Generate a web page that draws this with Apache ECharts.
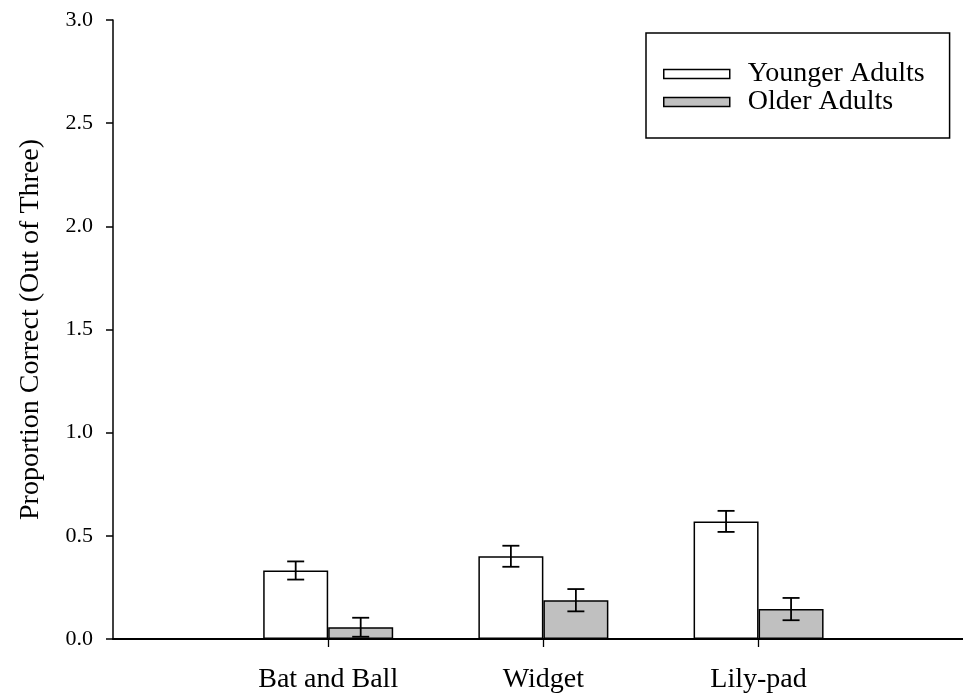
<!DOCTYPE html>
<html>
<head>
<meta charset="utf-8">
<script src="https://cdn.jsdelivr.net/npm/echarts@6/dist/echarts.min.js"></script>
<style>
  html, body { margin: 0; padding: 0; background: #fff; }
  #chart { width: 963px; height: 698px; }
</style>
</head>
<body>
<div id="chart"></div>
<script>
// Task categories and their positions on the x scale
const categories = ['Bat and Ball', 'Widget', 'Lily-pad'];
const categoryPos = [1, 2, 3];

// Mean proportion correct and standard errors per age group
const youngerMeans = [0.332, 0.401, 0.570];
const youngerErrs = [0.044, 0.051, 0.051];
const olderMeans = [0.057, 0.188, 0.145];
const olderErrs = [0.046, 0.054, 0.054];

// Y-axis tick values
const yTicks = [0, 0.5, 1.0, 1.5, 2.0, 2.5, 3.0];

const FONT = '"Liberation Serif", "Times New Roman", serif';
const BAR_W = 65;

function barData(means) {
  return means.map((m, i) => [categoryPos[i], m]);
}

// Vertical error bar with caps, shifted onto the centre of its bar
function errorSeries(name, means, errs, shift) {
  return {
    type: 'custom',
    name: name + ' error',
    silent: true,
    z: 5,
    data: means.map((m, i) => [categoryPos[i], m - errs[i], m + errs[i]]),
    renderItem: function (params, api) {
      const lo = api.coord([api.value(0), api.value(1)]);
      const hi = api.coord([api.value(0), api.value(2)]);
      const x = lo[0] + shift;
      const cap = 8.5;
      const style = { stroke: '#000', lineWidth: 1.8, fill: null };
      return {
        type: 'group',
        children: [
          { type: 'line', shape: { x1: x, y1: lo[1], x2: x, y2: hi[1] }, style: style },
          { type: 'line', shape: { x1: x - cap, y1: lo[1], x2: x + cap, y2: lo[1] }, style: style },
          { type: 'line', shape: { x1: x - cap, y1: hi[1], x2: x + cap, y2: hi[1] }, style: style }
        ]
      };
    }
  };
}

const chart = echarts.init(document.getElementById('chart'), null, { renderer: 'canvas' });

chart.setOption({
  animation: false,
  backgroundColor: '#fff',
  textStyle: { fontFamily: FONT, color: '#000' },
  grid: { left: 113, top: 20, right: 0, bottom: 59, containLabel: false },
  legend: {
    orient: 'vertical',
    left: 646,
    top: 33,
    padding: [27, 25, 22, 17],
    borderColor: '#000',
    borderWidth: 1.5,
    itemGap: 0,
    itemWidth: 66,
    itemHeight: 9,
    icon: 'rect',
    itemStyle: { borderColor: '#000', borderWidth: 1.5 },
    textStyle: { fontFamily: FONT, fontSize: 28, color: '#000', lineHeight: 28, padding: [0, 0, 0, 13] },
    data: ['Younger Adults', 'Older Adults']
  },
  xAxis: {
    type: 'value',
    min: 0,
    max: 3.95,
    splitLine: { show: false },
    axisLine: { show: true, lineStyle: { color: '#000', width: 2 } },
    axisTick: { show: true, customValues: categoryPos, length: 8, lineStyle: { color: '#000', width: 1.3 } },
    axisLabel: {
      customValues: categoryPos,
      formatter: function (v) { return categories[categoryPos.indexOf(v)] || ''; },
      fontFamily: FONT, fontSize: 28, color: '#000', margin: 27
    }
  },
  yAxis: {
    type: 'value',
    min: yTicks[0],
    max: yTicks[yTicks.length - 1],
    interval: 0.5,
    name: 'Proportion Correct (Out of Three)',
    nameLocation: 'middle',
    nameGap: 68,
    nameRotate: 90,
    nameTextStyle: { fontFamily: FONT, fontSize: 28, color: '#000' },
    splitLine: { show: false },
    axisLine: { show: true, lineStyle: { color: '#000', width: 1.5 } },
    axisTick: { show: true, length: 7, lineStyle: { color: '#000', width: 1.5 } },
    axisLabel: {
      formatter: function (v) { return v.toFixed(1); },
      fontFamily: FONT, fontSize: 22, color: '#000', margin: 20
    }
  },
  series: [
    {
      type: 'bar',
      name: 'Younger Adults',
      data: barData(youngerMeans),
      barWidth: BAR_W,
      barGap: '0%',
      itemStyle: { color: '#ffffff', borderColor: '#000', borderWidth: 1.5 }
    },
    {
      type: 'bar',
      name: 'Older Adults',
      data: barData(olderMeans),
      barWidth: BAR_W,
      barGap: '0%',
      itemStyle: { color: '#c0c0c0', borderColor: '#000', borderWidth: 1.5 }
    },
    errorSeries('Younger Adults', youngerMeans, youngerErrs, -BAR_W / 2),
    errorSeries('Older Adults', olderMeans, olderErrs, BAR_W / 2)
  ]
});
</script>
</body>
</html>
